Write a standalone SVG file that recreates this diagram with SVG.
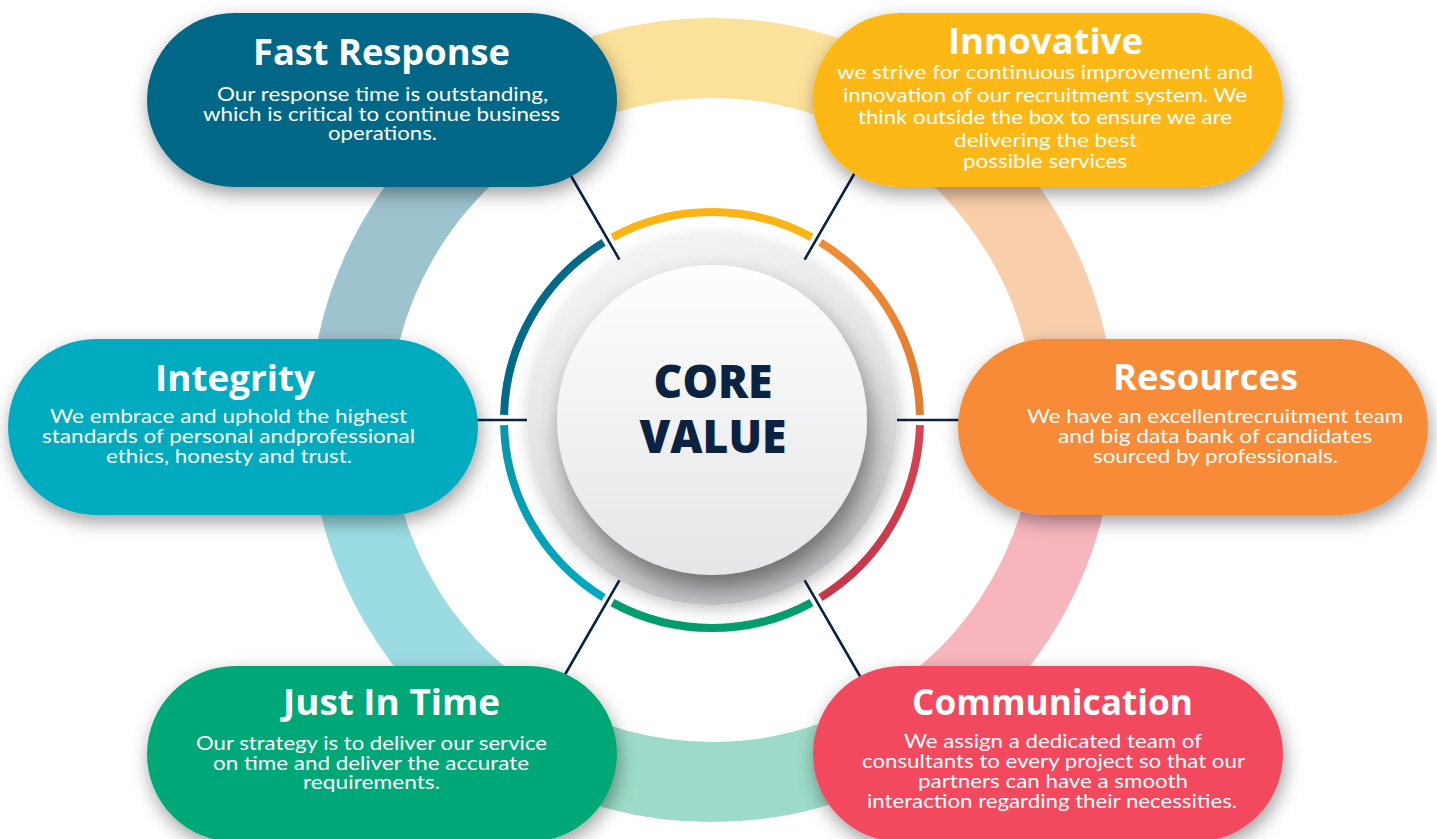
<svg xmlns="http://www.w3.org/2000/svg" width="1437" height="839" viewBox="0 0 1437 839">
  <defs>
    <filter id="pillShadow" x="-15%" y="-30%" width="130%" height="170%">
      <feDropShadow dx="2" dy="7" stdDeviation="9" flood-color="#000" flood-opacity="0.38"/>
    </filter>
    <filter id="discShadow" x="-30%" y="-30%" width="160%" height="160%">
      <feDropShadow dx="2" dy="4" stdDeviation="8" flood-color="#000" flood-opacity="0.22"/>
    </filter>
    <filter id="innerShadow" x="-30%" y="-30%" width="160%" height="170%">
      <feDropShadow dx="5" dy="14" stdDeviation="12" flood-color="#000" flood-opacity="0.45"/>
    </filter>
    <linearGradient id="discGrad" x1="0" y1="0" x2="0.3" y2="1">
      <stop offset="0" stop-color="#f7f7f7"/>
      <stop offset="0.6" stop-color="#e2e3e4"/>
      <stop offset="1" stop-color="#c6c7c8"/>
    </linearGradient>
    <linearGradient id="innerGrad" x1="0" y1="0" x2="0" y2="1">
      <stop offset="0" stop-color="#fefefe"/>
      <stop offset="1" stop-color="#e5e6e8"/>
    </linearGradient>
    <linearGradient id="orangeGrad" x1="0" y1="0" x2="0" y2="1">
      <stop offset="0" stop-color="#f28c37"/>
      <stop offset="1" stop-color="#df7a2f"/>
    </linearGradient>
    <linearGradient id="redGrad" x1="0" y1="0" x2="0" y2="1">
      <stop offset="0" stop-color="#d84452"/>
      <stop offset="1" stop-color="#c33748"/>
    </linearGradient>
    <linearGradient id="cyanGrad" x1="0" y1="0" x2="0" y2="1">
      <stop offset="0" stop-color="#0897aa"/>
      <stop offset="1" stop-color="#00a9c0"/>
    </linearGradient>
    <style>
      .band { fill: none; stroke-width: 80; }
      .seg { fill: none; stroke-width: 8; }
      .conn { stroke: #0b2340; stroke-width: 2.6; fill: none; }
      .title { font-family: "Open Sans", "DejaVu Sans", sans-serif; font-weight: 700; font-size: 35px; fill: #ffffff; text-anchor: middle; }
      .body { font-family: Lato, "Open Sans", "Liberation Sans", sans-serif; font-size: 20px; fill: #ffffff; text-anchor: middle; }
      .core { font-family: "Open Sans", "DejaVu Sans", sans-serif; font-weight: 800; font-size: 46px; fill: #0b2340; text-anchor: middle; }
    </style>
  </defs>

  <rect width="1437" height="839" fill="#ffffff"/>

  <!-- outer ring bands -->
  <g id="outer-ring">
    <path class="band" stroke="#fce19b" d="M893,106.5 A362,362 0 0 0 531,106.5"/>
    <path class="band" stroke="#9dc3cf" d="M531,106.5 A362,362 0 0 0 350,420"/>
    <path class="band" stroke="#9bdce2" d="M350,420 A362,362 0 0 0 531,733.5"/>
    <path class="band" stroke="#9cdbc9" d="M531,733.5 A362,362 0 0 0 893,733.5"/>
    <path class="band" stroke="#f7b6be" d="M893,733.5 A362,362 0 0 0 1074,420"/>
    <path class="band" stroke="#f9cfab" d="M1074,420 A362,362 0 0 0 893,106.5"/>
  </g>

  <!-- connectors -->
  <g id="connectors">
    <line class="conn" x1="619.5" y1="259.8" x2="567" y2="169"/>
    <line class="conn" x1="804.5" y1="259.8" x2="857" y2="169"/>
    <line class="conn" x1="527" y1="420" x2="470" y2="420"/>
    <line class="conn" x1="897" y1="420" x2="965" y2="420"/>
    <line class="conn" x1="619.5" y1="580.2" x2="563" y2="678"/>
    <line class="conn" x1="804.5" y1="580.2" x2="861" y2="678"/>
  </g>

  <!-- center -->
  <g id="core-value">
    <path class="seg" stroke="#fbb416" d="M811.57,237.38 A208,208 0 0 0 612.43,237.38"/>
    <path class="seg" stroke="#006a87" d="M603.63,242.45 A208,208 0 0 0 504.06,414.92"/>
    <path class="seg" stroke="url(#cyanGrad)" d="M504.06,425.08 A208,208 0 0 0 603.63,597.55"/>
    <path class="seg" stroke="#029d6e" d="M612.43,602.62 A208,208 0 0 0 811.57,602.62"/>
    <path class="seg" stroke="url(#redGrad)" d="M820.37,597.55 A208,208 0 0 0 919.94,425.08"/>
    <path class="seg" stroke="url(#orangeGrad)" d="M919.94,414.92 A208,208 0 0 0 820.37,242.45"/>
    <circle cx="712" cy="420" r="185" fill="url(#discGrad)" filter="url(#discShadow)"/>
    <circle cx="712" cy="420" r="155" fill="url(#innerGrad)" filter="url(#innerShadow)"/>
    <text class="core" x="713" y="398" textLength="119" lengthAdjust="spacingAndGlyphs">CORE</text>
    <text class="core" x="713" y="453" textLength="147" lengthAdjust="spacingAndGlyphs">VALUE</text>
  </g>

  <!-- Fast Response -->
  <g id="fast-response">
    <rect x="147" y="13" width="470" height="174" rx="87" fill="#006886" filter="url(#pillShadow)"/>
    <text class="title" x="381.5" y="65" textLength="257" lengthAdjust="spacingAndGlyphs">Fast Response</text>
    <text class="body" x="382.5" y="101" textLength="331" lengthAdjust="spacingAndGlyphs">Our response time is outstanding,</text>
    <text class="body" x="381.5" y="121" textLength="357" lengthAdjust="spacingAndGlyphs">which is critical to continue business</text>
    <text class="body" x="382.5" y="140" textLength="109" lengthAdjust="spacingAndGlyphs">operations.</text>
  </g>

  <!-- Innovative -->
  <g id="innovative">
    <rect x="813" y="13" width="470" height="174" rx="87" fill="#fdb813" filter="url(#pillShadow)"/>
    <text class="title" x="1045.5" y="54" textLength="195" lengthAdjust="spacingAndGlyphs">Innovative</text>
    <text class="body" x="1045" y="79" textLength="416" lengthAdjust="spacingAndGlyphs">we strive for continuous improvement and</text>
    <text class="body" x="1045" y="102" textLength="404" lengthAdjust="spacingAndGlyphs">innovation of our recruitment system. We</text>
    <text class="body" x="1045" y="124" textLength="374" lengthAdjust="spacingAndGlyphs">think outside the box to ensure we are</text>
    <text class="body" x="1045.5" y="147" textLength="183" lengthAdjust="spacingAndGlyphs">delivering the best</text>
    <text class="body" x="1045" y="168" textLength="164" lengthAdjust="spacingAndGlyphs">possible services</text>
  </g>

  <!-- Integrity -->
  <g id="integrity">
    <rect x="8" y="339" width="470" height="176" rx="88" fill="#00abc0" filter="url(#pillShadow)"/>
    <text class="title" x="235" y="391" textLength="160" lengthAdjust="spacingAndGlyphs">Integrity</text>
    <text class="body" x="228.5" y="423" textLength="357" lengthAdjust="spacingAndGlyphs">We embrace and uphold the highest</text>
    <text class="body" x="228.5" y="443" textLength="373" lengthAdjust="spacingAndGlyphs">standards of personal andprofessional</text>
    <text class="body" x="229" y="463" textLength="246" lengthAdjust="spacingAndGlyphs">ethics, honesty and trust.</text>
  </g>

  <!-- Resources -->
  <g id="resources">
    <rect x="958" y="339" width="470" height="176" rx="88" fill="#f78b37" filter="url(#pillShadow)"/>
    <text class="title" x="1205.5" y="390" textLength="185" lengthAdjust="spacingAndGlyphs">Resources</text>
    <text class="body" x="1215" y="423" textLength="376" lengthAdjust="spacingAndGlyphs">We have an excellentrecruitment team</text>
    <text class="body" x="1215" y="443" textLength="314" lengthAdjust="spacingAndGlyphs">and big data bank of candidates</text>
    <text class="body" x="1215.5" y="463" textLength="245" lengthAdjust="spacingAndGlyphs">sourced by professionals.</text>
  </g>

  <!-- Just In Time -->
  <g id="just-in-time">
    <rect x="147" y="666" width="470" height="176" rx="88" fill="#00a878" filter="url(#pillShadow)"/>
    <text class="title" x="391.5" y="715" textLength="217" lengthAdjust="spacingAndGlyphs">Just In Time</text>
    <text class="body" x="371.5" y="750" textLength="351" lengthAdjust="spacingAndGlyphs">Our strategy is to deliver our service</text>
    <text class="body" x="371" y="770" textLength="316" lengthAdjust="spacingAndGlyphs">on time and deliver the accurate</text>
    <text class="body" x="371.5" y="789" textLength="137" lengthAdjust="spacingAndGlyphs">requirements.</text>
  </g>

  <!-- Communication -->
  <g id="communication">
    <rect x="813" y="666" width="470" height="176" rx="88" fill="#f2485f" filter="url(#pillShadow)"/>
    <text class="title" x="1052.5" y="715" textLength="281" lengthAdjust="spacingAndGlyphs">Communication</text>
    <text class="body" x="1053" y="748" textLength="298" lengthAdjust="spacingAndGlyphs">We assign a dedicated team of</text>
    <text class="body" x="1053.5" y="768" textLength="383" lengthAdjust="spacingAndGlyphs">consultants to every project so that our</text>
    <text class="body" x="1053" y="788" textLength="270" lengthAdjust="spacingAndGlyphs">partners can have a smooth</text>
    <text class="body" x="1052" y="808" textLength="370" lengthAdjust="spacingAndGlyphs">interaction regarding their necessities.</text>
  </g>
</svg>
